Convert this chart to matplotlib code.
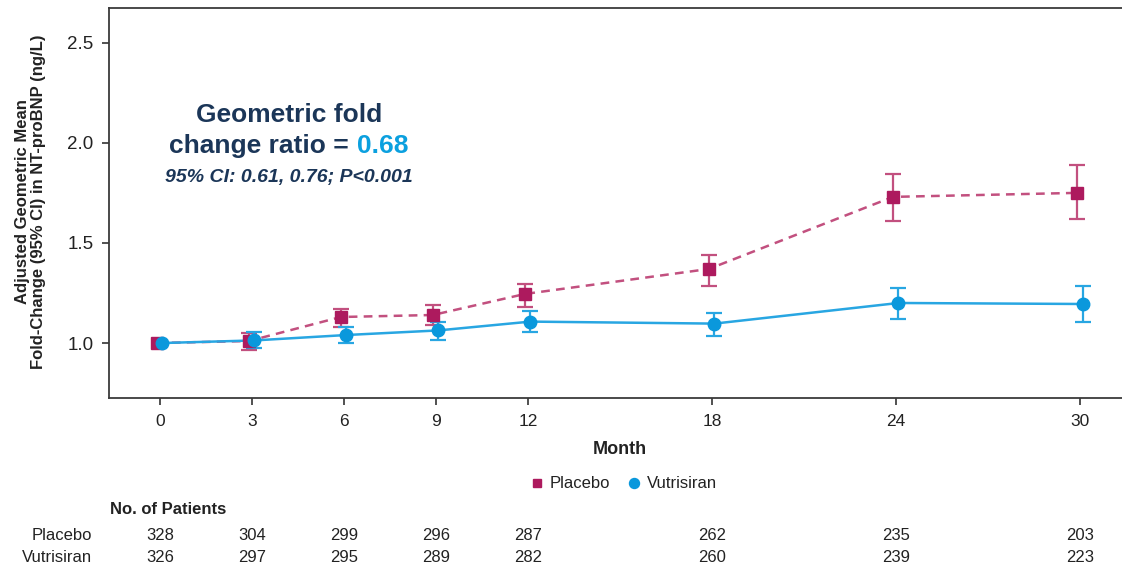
import matplotlib.pyplot as plt
import matplotlib.transforms as mtransforms

plt.rcParams['font.family'] = ['Liberation Sans', 'DejaVu Sans']

months = [0, 3, 6, 9, 12, 18, 24, 30]

placebo_mean = [1.00, 1.01, 1.13, 1.14, 1.245, 1.37, 1.73, 1.75]
placebo_lo = [1.00, 0.965, 1.08, 1.09, 1.18, 1.285, 1.61, 1.62]
placebo_hi = [1.00, 1.05, 1.17, 1.19, 1.295, 1.44, 1.845, 1.89]

vutri_mean = [1.00, 1.013, 1.04, 1.063, 1.107, 1.097, 1.20, 1.195]
vutri_lo = [1.00, 0.977, 1.00, 1.015, 1.055, 1.035, 1.12, 1.107]
vutri_hi = [1.00, 1.057, 1.08, 1.107, 1.16, 1.15, 1.277, 1.285]

n_placebo = [328, 304, 299, 296, 287, 262, 235, 203]
n_vutri = [326, 297, 295, 289, 282, 260, 239, 223]

PLA_MARK = '#ad1a5e'
PLA_LINE = '#c2507f'
VUT_MARK = '#0a98dc'
VUT_LINE = '#28a6e2'
NAVY = '#1b3658'
TXT = '#222222'

fig = plt.figure(figsize=(11.22, 5.68), dpi=100)
ax = fig.add_axes([0.0971, 0.2988, 0.9109, 0.6866])

# small horizontal dodge so the two arms don't overlap
x_pla = [m - 0.1 for m in months]
x_vut = [m + 0.08 for m in months]

def err(mean, lo, hi):
    return [[m - l for m, l in zip(mean, lo)], [h - m for m, h in zip(mean, hi)]]

# baseline (month 0) has no interval, so bars start at month 3
ax.errorbar(x_pla[1:], placebo_mean[1:],
            yerr=err(placebo_mean[1:], placebo_lo[1:], placebo_hi[1:]),
            fmt='none', ecolor=PLA_LINE, elinewidth=1.6, capsize=6, capthick=1.6, zorder=2)
ax.plot(x_pla, placebo_mean, ls=(0, (3.5, 2.5)), color=PLA_LINE, lw=1.8, zorder=3)
ax.plot(x_pla, placebo_mean, ls='none', marker='s', ms=8, color=PLA_MARK,
        label='Placebo', zorder=4)

ax.errorbar(x_vut[1:], vutri_mean[1:],
            yerr=err(vutri_mean[1:], vutri_lo[1:], vutri_hi[1:]),
            fmt='none', ecolor=VUT_LINE, elinewidth=1.6, capsize=6, capthick=1.6, zorder=2)
ax.plot(x_vut, vutri_mean, ls='-', color=VUT_LINE, lw=1.8, zorder=3)
ax.plot(x_vut, vutri_mean, ls='none', marker='o', ms=9, color=VUT_MARK,
        label='Vutrisiran', zorder=5)

ax.set_xlim(-1.66, 31.66)
ax.set_ylim(0.724, 2.672)
ax.set_xticks(months)
ax.set_yticks([1.0, 1.5, 2.0, 2.5])
ax.set_yticklabels(['1.0', '1.5', '2.0', '2.5'])
ax.tick_params(direction='out', length=5, width=1.2, color='#333333',
               labelsize=12.5, labelcolor=TXT, pad=6)
ax.tick_params(axis='y', labelsize=13.5)
for sp in ax.spines.values():
    sp.set_color('#3a3a3a')
    sp.set_linewidth(1.3)

ax.set_xlabel('Month', fontsize=13, fontweight='bold', color=TXT, labelpad=9)
ax.set_ylabel('Adjusted Geometric Mean\nFold-Change (95% CI) in NT-proBNP (ng/L)',
              fontsize=12, fontweight='bold', color=TXT, va='center',
              linespacing=1.1)
ax.yaxis.set_label_coords(-0.0765, 0.505)

# treatment effect callout
cx = 4.2
ax.text(cx, 2.105, 'Geometric fold', ha='center', va='baseline',
        fontsize=19, fontweight='bold', color=NAVY)
t1 = ax.text(cx, 1.948, 'change ratio = ', ha='left', va='baseline',
             fontsize=19, fontweight='bold', color=NAVY)
t2 = ax.annotate('0.68', xycoords=t1, xy=(1, 0), va='bottom', ha='left',
                 fontsize=19, fontweight='bold', color='#0ba0df')
fig.canvas.draw()
r = fig.canvas.get_renderer()
w = t1.get_window_extent(r).width + t2.get_window_extent(r).width
t1.set_transform(mtransforms.offset_copy(ax.transData, fig=fig, x=-w / 2, units='dots'))
ax.text(cx, 1.803, '95% CI: 0.61, 0.76; P<0.001', ha='center', va='baseline',
        fontsize=14, fontweight='bold', fontstyle='italic', color=NAVY)

fig.legend(loc='center', bbox_to_anchor=(0.555, 1 - 484 / 568), ncol=2,
           frameon=False, fontsize=12, handletextpad=0.3, columnspacing=0.9,
           handlelength=1.0, markerscale=0.8, labelcolor=TXT)

# number-at-risk table under the axis
tr = mtransforms.blended_transform_factory(ax.transData, fig.transFigure)
fig.text(110 / 1122, 1 - 509 / 568, 'No. of Patients', ha='left', va='center',
         fontsize=12, fontweight='bold', color=TXT)
rows = [('Placebo', n_placebo, 535), ('Vutrisiran', n_vutri, 558)]
for name, counts, ypix in rows:
    fig.text(92 / 1122, 1 - ypix / 568, name, ha='right', va='center',
             fontsize=12, color=TXT)
    for m, c in zip(months, counts):
        ax.text(m, 1 - ypix / 568, str(c), transform=tr, ha='center', va='center',
                fontsize=12, color=TXT)

fig.savefig('out.png', dpi=100)
